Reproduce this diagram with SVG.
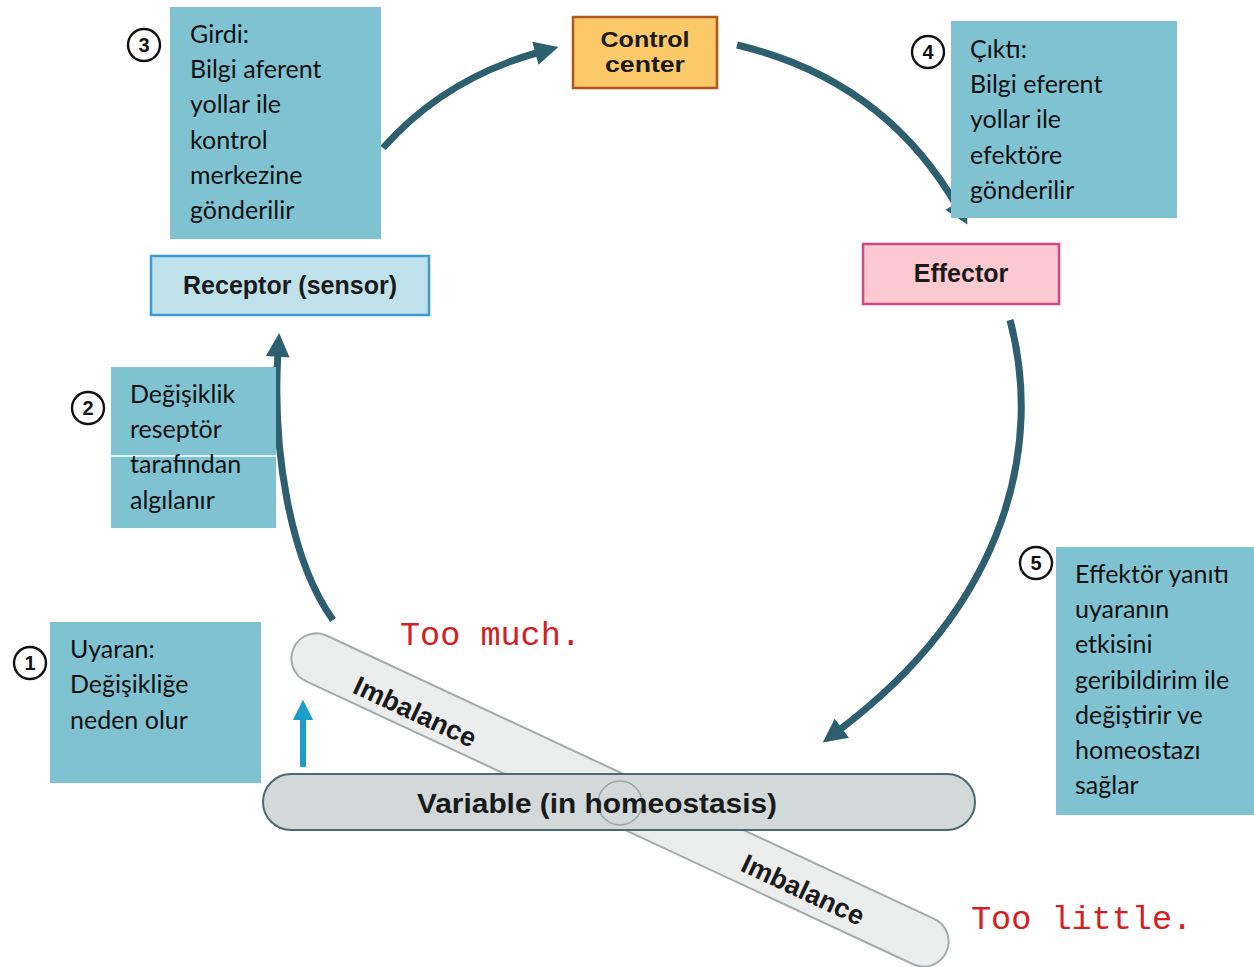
<svg xmlns="http://www.w3.org/2000/svg" width="1254" height="967" viewBox="0 0 1254 967">
<style>
.note{fill:#7fc3d3}
.nt{font-family:Lato,"Open Sans","Noto Sans",sans-serif;font-size:25px;fill:#111}
.lbl{font-family:"Liberation Sans",Arial,sans-serif;font-weight:bold;fill:#1a1a1a}
.num{fill:#fff;stroke:#111;stroke-width:2.4}
.numt{font-family:"Liberation Sans",Arial,sans-serif;font-weight:bold;font-size:20px;fill:#111;text-anchor:middle}
.red{font-family:"Liberation Mono","Courier New",monospace;font-size:33.5px;fill:#d42020}
.conn{fill:none;stroke:#2e5f6e;stroke-width:7}
</style>
<defs>
<marker id="ah" viewBox="0 0 10 10" refX="2" refY="5" markerWidth="3.6" markerHeight="3.4" orient="auto" markerUnits="strokeWidth">
<path d="M0,0 L10,5 L0,10 z" fill="#2e5f6e"/>
</marker>
<marker id="ahb" viewBox="0 0 10 10" refX="2" refY="5" markerWidth="3.4" markerHeight="3.4" orient="auto" markerUnits="strokeWidth">
<path d="M0,0 L10,5 L0,10 z" fill="#1e9dc8"/>
</marker>
</defs>
<rect width="1254" height="967" fill="#fff"/>

<g id="imbalance-bar">
<rect x="260" y="775" width="720" height="50" rx="25" transform="rotate(25 620 800)" fill="#eceeee" stroke="#a3abab" stroke-width="2"/>
<text class="lbl" font-size="27" x="415" y="721" text-anchor="middle" transform="rotate(25 415 712)">Imbalance</text>
<text class="lbl" font-size="27" x="803" y="899" text-anchor="middle" transform="rotate(25 803 890)">Imbalance</text>
</g>

<g id="variable">
<rect x="263" y="774" width="712" height="56" rx="28" fill="#d3d9d9" stroke="#4f6a6f" stroke-width="2"/>
<circle cx="620" cy="803" r="22" fill="none" stroke="#9aa6a6" stroke-width="1.5"/>
<text class="lbl" font-size="28" x="417" y="813" textLength="360" lengthAdjust="spacingAndGlyphs">Variable (in homeostasis)</text>
</g>

<g id="too-much"><text class="red" x="400" y="645">Too much.</text></g>
<g id="too-little"><text class="red" x="971" y="929">Too little.</text></g>

<g id="connectors">
<path class="conn" d="M383,148 Q445,78 540,52" marker-end="url(#ah)"/>
<path class="conn" d="M737,45 Q885,80 958,208" marker-end="url(#ah)"/>
<path class="conn" d="M1010,320 C1042,440 1012,600 838,731" marker-end="url(#ah)"/>
<path class="conn" d="M333,620 C290,560 272,450 278,352" marker-end="url(#ah)"/>
<path d="M303,767 L303,716" fill="none" stroke="#1e9dc8" stroke-width="6" marker-end="url(#ahb)"/>
</g>

<g id="receptor">
<rect x="151" y="256" width="278" height="59" fill="#bfe2ea" stroke="#3d9ad6" stroke-width="2.5"/>
<text class="lbl" font-size="25" x="290" y="294" text-anchor="middle">Receptor (sensor)</text>
</g>

<g id="control-center">
<rect x="573" y="17" width="144" height="71" fill="#fcc968" stroke="#b0561c" stroke-width="2.5"/>
<text class="lbl" font-size="22" x="645" y="47" text-anchor="middle" textLength="89" lengthAdjust="spacingAndGlyphs">Control</text>
<text class="lbl" font-size="22" x="645" y="72" text-anchor="middle" textLength="80" lengthAdjust="spacingAndGlyphs">center</text>
</g>

<g id="effector">
<rect x="863" y="244" width="196" height="60" fill="#fccad0" stroke="#d4488a" stroke-width="2.5"/>
<text class="lbl" font-size="25" x="961" y="282" text-anchor="middle">Effector</text>
</g>

<g id="note3">
<rect class="note" x="170" y="7" width="211" height="232"/>
<text class="nt"><tspan x="190" y="43">Girdi:</tspan><tspan x="190" y="78">Bilgi aferent</tspan><tspan x="190" y="113">yollar ile</tspan><tspan x="190" y="149">kontrol</tspan><tspan x="190" y="184">merkezine</tspan><tspan x="190" y="219">gönderilir</tspan></text>
<circle class="num" cx="144" cy="45" r="16"/>
<text class="numt" x="144" y="52">3</text>
</g>

<g id="note4">
<rect class="note" x="951" y="21" width="226" height="197"/>
<text class="nt"><tspan x="970" y="58">Çıktı:</tspan><tspan x="970" y="93">Bilgi eferent</tspan><tspan x="970" y="128">yollar ile</tspan><tspan x="970" y="164">efektöre</tspan><tspan x="970" y="199">gönderilir</tspan></text>
<circle class="num" cx="928" cy="52" r="16"/>
<text class="numt" x="928" y="59">4</text>
</g>

<g id="note2">
<rect class="note" x="111" y="367" width="165" height="161"/>
<line x1="111" y1="456" x2="276" y2="456" stroke="#fff" stroke-width="1.5"/>
<text class="nt"><tspan x="130" y="403">Değişiklik</tspan><tspan x="130" y="438">reseptör</tspan><tspan x="130" y="473">tarafından</tspan><tspan x="130" y="509">algılanır</tspan></text>
<circle class="num" cx="88" cy="408" r="16"/>
<text class="numt" x="88" y="415">2</text>
</g>

<g id="note1">
<rect class="note" x="50" y="622" width="211" height="161"/>
<text class="nt"><tspan x="70" y="658">Uyaran:</tspan><tspan x="70" y="693">Değişikliğe</tspan><tspan x="70" y="729">neden olur</tspan></text>
<circle class="num" cx="30" cy="663" r="16"/>
<text class="numt" x="30" y="670">1</text>
</g>

<g id="note5">
<rect class="note" x="1056" y="547" width="198" height="268"/>
<text class="nt"><tspan x="1075" y="583">Effektör yanıtı</tspan><tspan x="1075" y="618">uyaranın</tspan><tspan x="1075" y="653">etkisini</tspan><tspan x="1075" y="689">geribildirim ile</tspan><tspan x="1075" y="724">değiştirir ve</tspan><tspan x="1075" y="759">homeostazı</tspan><tspan x="1075" y="794">sağlar</tspan></text>
<circle class="num" cx="1036" cy="563" r="16"/>
<text class="numt" x="1036" y="570">5</text>
</g>
</svg>
